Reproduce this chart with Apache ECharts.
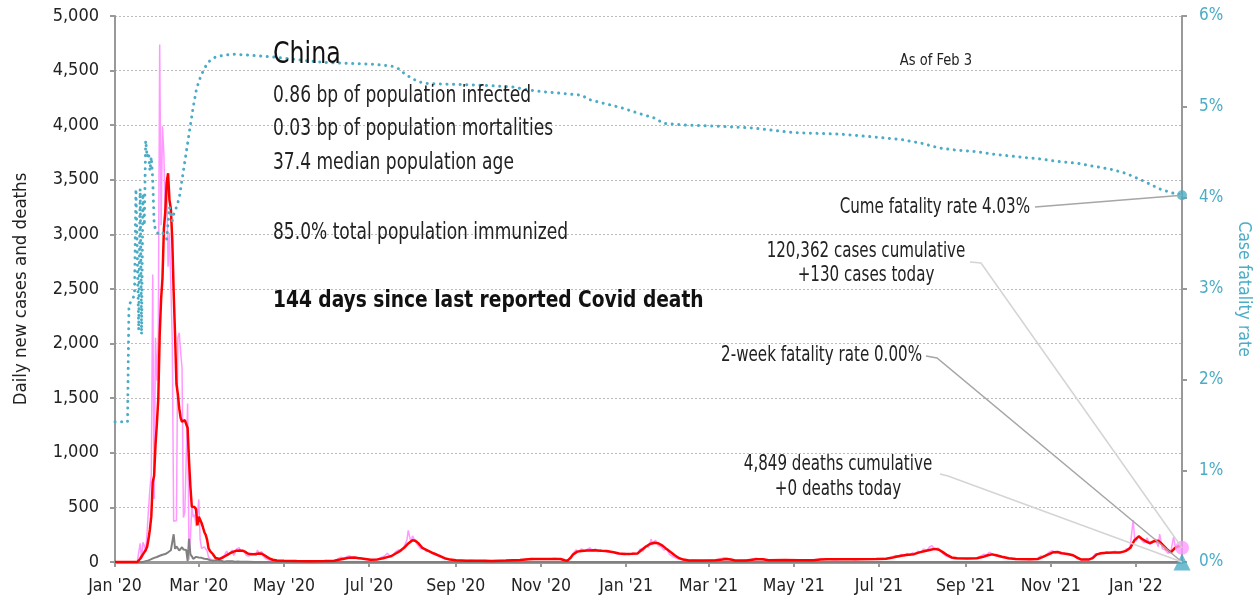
<!DOCTYPE html>
<html><head><meta charset="utf-8">
<script src="https://cdn.jsdelivr.net/npm/echarts@6/dist/echarts.min.js"></script>
<style>html,body{margin:0;padding:0;background:#fff}#c{width:1260px;height:604px}</style>
</head><body><div id="c"></div>
<script>
// x values are days since 2020-01-01
const START = Date.UTC(2020, 0, 1);
const LAST_DAY = 764; // 2022-02-03

const dailyCases = [[0,0],[6,2],[12,0],[16,4],[17,12],[18,170],[19,25],[20,180],[21,150],[22,95],[23,277],[24,486],[25,669],[26,802],[27,2632],[28,578],[29,2054],[30,1661],[31,2089],[32,4739],[33,3086],[34,3991],[35,3733],[36,3147],[37,3523],[38,2704],[39,3015],[40,2525],[41,2032],[42,373],[43,380],[44,380],[45,2055],[46,2100],[47,1921],[48,1777],[49,408],[50,458],[51,473],[52,1451],[53,21],[54,219],[55,513],[56,412],[57,434],[58,328],[59,428],[60,573],[61,202],[62,125],[63,119],[64,139],[65,143],[66,99],[67,44],[68,40],[69,19],[70,24],[71,15],[72,11],[73,20],[74,30],[75,25],[76,45],[77,40],[78,55],[79,45],[80,100],[81,65],[82,75],[83,90],[84,110],[85,60],[86,85],[87,120],[88,105],[89,130],[90,100],[91,95],[92,110],[93,90],[94,60],[95,70],[96,55],[97,80],[98,65],[99,75],[100,90],[101,60],[102,110],[103,85],[104,75],[105,95],[106,55],[107,40],[108,30],[109,25],[110,20],[112,15],[115,8],[120,10],[125,5],[130,12],[135,8],[140,5],[145,10],[150,6],[155,8],[158,15],[160,30],[162,45],[164,35],[166,50],[168,55],[170,40],[172,45],[174,30],[176,35],[178,25],[181,20],[184,15],[187,25],[189,30],[191,45],[193,55],[195,80],[197,50],[199,65],[201,95],[203,110],[205,100],[207,140],[209,200],[210,290],[211,230],[212,180],[213,240],[215,190],[217,150],[219,120],[221,130],[223,95],[225,100],[227,80],[229,70],[231,55],[234,40],[237,30],[240,20],[245,15],[250,12],[255,15],[260,10],[265,15],[270,8],[275,12],[280,15],[285,20],[290,18],[295,25],[298,35],[302,25],[306,30],[310,28],[315,35],[319,25],[322,10],[324,15],[326,45],[328,80],[330,110],[332,95],[334,120],[336,100],[338,115],[340,130],[342,100],[344,120],[346,95],[348,110],[350,100],[353,90],[356,95],[359,75],[362,70],[365,80],[368,65],[371,80],[374,75],[376,120],[378,100],[380,150],[382,135],[384,210],[385,160],[387,200],[389,150],[391,140],[393,110],[395,120],[397,70],[400,45],[403,30],[406,20],[410,12],[415,15],[420,10],[425,15],[430,18],[433,25],[436,40],[438,35],[440,20],[445,12],[450,15],[455,20],[459,35],[462,25],[466,15],[470,20],[475,12],[480,18],[485,15],[490,20],[495,12],[500,15],[505,25],[510,30],[515,20],[520,25],[525,30],[530,20],[535,28],[540,25],[545,30],[550,35],[553,30],[556,45],[559,60],[561,45],[563,70],[565,55],[567,80],[569,60],[571,85],[573,70],[575,100],[577,90],[579,120],[581,100],[583,135],[585,150],[587,110],[589,130],[591,100],[593,75],[595,55],[598,40],[601,30],[605,35],[610,30],[615,35],[618,40],[620,55],[622,70],[624,65],[626,90],[628,75],[630,60],[633,50],[636,40],[640,30],[645,25],[650,28],[655,22],[660,30],[663,55],[665,45],[667,70],[669,90],[671,105],[673,85],[675,95],[677,75],[679,85],[681,70],[683,75],[685,60],[687,55],[689,30],[692,20],[695,25],[698,20],[700,45],[702,75],[704,70],[706,85],[708,75],[710,95],[712,80],[714,90],[716,100],[718,80],[720,95],[722,90],[724,120],[726,110],[727,150],[729,385],[730,230],[731,190],[733,240],[735,200],[737,175],[739,220],[741,160],[743,180],[745,210],[747,140],[748,255],[750,120],[752,110],[754,80],[756,95],[758,230],[759,150],[761,140],[763,160],[764,130]];

const avgCases = [[0,0],[16,0],[17,10],[18,30],[19,50],[20,70],[21,90],[22,110],[23,140],[24,210],[25,300],[26,420],[27,730],[28,790],[29,1071],[30,1269],[31,1498],[32,2079],[33,2406],[34,2600],[35,3050],[36,3207],[37,3473],[38,3560],[39,3314],[40,3234],[41,2954],[42,2474],[43,2079],[44,1630],[45,1537],[46,1406],[47,1320],[48,1284],[49,1289],[50,1300],[51,1313],[52,1227],[53,930],[54,687],[55,506],[56,507],[57,503],[58,483],[59,336],[60,415],[61,413],[62,357],[63,316],[64,273],[65,247],[66,200],[67,124],[68,101],[69,86],[70,73],[71,55],[72,36],[73,25],[75,28],[77,40],[79,55],[81,70],[83,85],[85,95],[87,104],[89,106],[91,104],[93,95],[95,78],[97,72],[99,70],[101,74],[103,78],[105,76],[107,62],[109,45],[111,30],[113,21],[116,14],[121,11],[130,9],[140,8],[150,9],[157,12],[161,22],[164,30],[168,40],[171,42],[174,36],[178,30],[183,21],[188,24],[192,35],[195,45],[198,55],[201,78],[204,100],[207,130],[210,170],[213,200],[215,195],[217,175],[220,130],[224,105],[228,80],[232,58],[236,35],[240,22],[244,15],[252,12],[262,12],[270,10],[280,13],[290,18],[296,26],[300,28],[310,28],[319,28],[322,16],[324,12],[326,35],[328,68],[331,95],[334,100],[338,106],[343,108],[348,102],[352,100],[357,90],[361,78],[365,74],[370,75],[374,77],[377,110],[380,140],[383,165],[386,176],[389,172],[392,150],[395,118],[398,90],[401,60],[404,35],[407,22],[411,14],[420,13],[430,16],[435,22],[438,28],[441,22],[444,14],[452,14],[459,25],[464,25],[468,16],[480,18],[490,16],[500,15],[505,22],[510,25],[530,25],[545,28],[552,30],[556,38],[560,50],[564,60],[568,66],[572,72],[576,88],[580,100],[584,112],[587,120],[590,112],[593,88],[596,62],[599,42],[603,34],[610,33],[617,35],[621,45],[625,62],[628,70],[631,62],[635,48],[640,34],[645,27],[655,25],[661,28],[664,45],[668,68],[672,90],[675,92],[678,80],[682,74],[686,62],[689,40],[692,22],[697,22],[700,35],[703,70],[706,80],[710,85],[715,88],[720,88],[724,102],[727,130],[730,200],[733,235],[735,215],[738,190],[741,172],[744,190],[747,195],[750,160],[753,120],[756,88],[759,130],[762,148],[764,142]];

const dailyDeaths = [[0,0],[20,0],[22,8],[23,16],[24,15],[25,24],[26,26],[27,26],[28,38],[29,43],[30,46],[31,45],[32,57],[33,64],[34,66],[35,73],[36,73],[37,86],[38,89],[39,97],[40,108],[41,97],[42,254],[43,121],[44,143],[45,142],[46,105],[47,98],[48,136],[49,114],[50,118],[51,109],[52,10],[53,212],[54,71],[55,52],[56,29],[57,44],[58,47],[59,35],[60,42],[61,31],[62,38],[63,31],[64,30],[65,28],[66,27],[67,22],[68,17],[69,22],[70,11],[71,7],[72,13],[73,10],[74,14],[75,13],[76,11],[77,8],[78,3],[79,7],[80,6],[81,9],[82,7],[83,4],[84,6],[85,5],[86,3],[88,4],[90,2],[95,3],[100,1],[106,0],[764,0]];

// case fatality rate, percent
const fatalityRate = [[0,1.54],[9,1.54],[10,2.83],[11,2.85],[12,2.87],[13,2.9],[14,2.95],[15,4.1],[16,4.12],[17,2.55],[18,4.1],[19,2.5],[20,4.05],[21,3.7],[22,4.63],[23,4.45],[24,4.5],[25,4.3],[26,4.45],[27,4.2],[28,3.72],[29,3.65],[30,3.62],[32,3.6],[34,3.62],[36,3.58],[37,3.55],[38,3.72],[39,3.9],[40,3.82],[41,3.75],[42,3.82],[43,3.85],[44,3.9],[45,3.95],[46,4.0],[47,4.1],[48,4.2],[50,4.4],[52,4.6],[54,4.8],[56,5.0],[58,5.17],[60,5.28],[62,5.36],[65,5.45],[68,5.51],[72,5.55],[78,5.57],[85,5.58],[95,5.57],[113,5.55],[130,5.52],[150,5.49],[165,5.48],[185,5.47],[198,5.45],[203,5.42],[207,5.37],[212,5.32],[217,5.28],[222,5.26],[240,5.25],[262,5.24],[285,5.22],[295,5.19],[305,5.17],[320,5.15],[334,5.13],[340,5.08],[350,5.04],[363,4.99],[375,4.93],[386,4.88],[393,4.82],[410,4.80],[430,4.79],[456,4.77],[485,4.72],[521,4.70],[544,4.67],[564,4.64],[578,4.60],[590,4.55],[600,4.53],[616,4.51],[630,4.48],[648,4.45],[662,4.43],[676,4.40],[690,4.38],[700,4.35],[712,4.32],[724,4.27],[736,4.19],[748,4.10],[756,4.06],[764,4.03]];

const casesToday = 130;
const deathsToday = 0;
const cumeFatality = 4.03;
const twoWeekFatality = 0.00;
const casesCumulative = 120362;
const deathsCumulative = 4849;

const countryName = 'China';
const infoLines = ['0.86 bp of population infected', '0.03 bp of population mortalities', '37.4 median population age', '', '85.0% total population immunized'];
const boldLine = '144 days since last reported Covid death';
const asOfText = 'As of Feb 3';
const MONTHS = ['Jan','Feb','Mar','Apr','May','Jun','Jul','Aug','Sep','Oct','Nov','Dec'];

const tickDays = [];
for (let y = 2020; y <= 2022; y++) for (let m = 0; m < 12; m += 2) {
  const d = (Date.UTC(y, m, 1) - START) / 864e5;
  if (d <= LAST_DAY) tickDays.push(d);
}
function fmtDay(v) {
  const dt = new Date(START + v * 864e5);
  return MONTHS[dt.getUTCMonth()] + " '" + String(dt.getUTCFullYear()).slice(2);
}

const FONT = "'DejaVu Sans Condensed','Liberation Sans Narrow',sans-serif";
const BLUE = '#4bacc6';
const chart = echarts.init(document.getElementById('c'), null, {renderer: 'canvas'});

const option = {
  animation: false,
  backgroundColor: '#fff',
  textStyle: {fontFamily: FONT},
  grid: {left: 115, right: 78, top: 16, bottom: 42, outerBoundsMode: 'none'},
  xAxis: {
    type: 'value', min: 0, max: LAST_DAY,
    axisLine: {show: true, onZero: false, lineStyle: {color: '#999', width: 3}},
    axisTick: {show: true, customValues: tickDays, length: 5, lineStyle: {color: '#999', width: 2}},
    axisLabel: {customValues: tickDays, formatter: fmtDay, color: '#222', fontSize: 17.5, margin: 15, fontFamily: FONT},
    splitLine: {show: false}
  },
  yAxis: [{
    type: 'value', min: 0, max: 5000, interval: 500,
    name: 'Daily new cases and deaths', nameLocation: 'middle', nameGap: 84,
    nameTextStyle: {fontSize: 18.5, color: '#222', fontFamily: FONT},
    axisLine: {show: true, lineStyle: {color: '#999', width: 2}},
    axisTick: {show: true, length: 5, lineStyle: {color: '#999', width: 2}},
    axisLabel: {formatter: v => v.toLocaleString('en-US'), fontSize: 18, color: '#222', margin: 16, fontFamily: FONT},
    splitLine: {show: true, lineStyle: {color: '#bbb', type: [2, 2], width: 1}}
  }, {
    type: 'value', min: 0, max: 6, interval: 1, position: 'right',
    name: 'Case fatality rate', nameLocation: 'middle', nameGap: 49, nameRotate: -90,
    nameTextStyle: {fontSize: 17.5, color: BLUE, fontFamily: FONT},
    axisLine: {show: true, lineStyle: {color: '#999', width: 2}},
    axisTick: {show: true, length: 5, lineStyle: {color: '#999', width: 2}},
    axisLabel: {formatter: '{value}%', fontSize: 17, color: BLUE, margin: 17, fontFamily: FONT},
    splitLine: {show: false}
  }],
  series: [
    {type: 'line', data: dailyCases, showSymbol: false, z: 2, lineStyle: {color: '#ff99ff', width: 1.5}, itemStyle: {color: '#ff99ff'}},
    {type: 'line', data: dailyDeaths, showSymbol: false, z: 3, lineStyle: {color: '#808080', width: 2}, itemStyle: {color: '#808080'}},
    {type: 'line', data: avgCases, showSymbol: false, z: 4, lineStyle: {color: '#ff0000', width: 2.5}, itemStyle: {color: '#ff0000'}},
    {type: 'line', yAxisIndex: 1, data: fatalityRate, showSymbol: false, z: 5,
      lineStyle: {color: BLUE, width: 3, type: [0.1, 6.5], cap: 'round'}, itemStyle: {color: BLUE}},
    {type: 'scatter', data: [[LAST_DAY, casesToday]], symbol: 'circle', symbolSize: 14, clip: false, z: 6, itemStyle: {color: '#ff99ff'}},
    {type: 'scatter', data: [[LAST_DAY, deathsToday]], symbol: 'triangle', symbolSize: 17, clip: false, z: 7, itemStyle: {color: BLUE}},
    {type: 'scatter', yAxisIndex: 1, data: [[LAST_DAY, cumeFatality]], symbol: 'circle', symbolSize: 10, clip: false, z: 7, itemStyle: {color: BLUE}}
  ]
};
chart.setOption(option);

const pCases = chart.convertToPixel({xAxisIndex: 0, yAxisIndex: 0}, [LAST_DAY, casesToday]);
const pDeaths = chart.convertToPixel({xAxisIndex: 0, yAxisIndex: 0}, [LAST_DAY, deathsToday]);
const pCfr = chart.convertToPixel({xAxisIndex: 0, yAxisIndex: 1}, [LAST_DAY, cumeFatality]);

function txt(x, y, text, size, sx, opts) {
  return {type: 'text', x: x, y: y, scaleX: sx, z: 100, silent: true,
    style: Object.assign({text: text, font: 'normal ' + size + 'px ' + FONT, fill: '#222', align: 'left', verticalAlign: 'middle'}, opts || {})};
}
function leader(points, color) {
  return {type: 'polyline', z: 90, silent: true, shape: {points: points}, style: {stroke: color, lineWidth: 1.5, fill: null}};
}
const graphics = [
  txt(273, 55, countryName, 31, 0.85, {fill: '#111'}),
  txt(273, 301, boldLine, 23, 0.9, {font: 'bold 23px ' + FONT, fill: '#111'}),
  txt(936, 61, asOfText, 15, 0.97, {align: 'center'}),
  txt(1030, 208, 'Cume fatality rate ' + cumeFatality.toFixed(2) + '%', 21, 0.8, {align: 'right'}),
  txt(866, 252, casesCumulative.toLocaleString('en-US') + ' cases cumulative', 21, 0.8, {align: 'center'}),
  txt(866, 276, '+' + casesToday + ' cases today', 21, 0.8, {align: 'center'}),
  txt(922, 356, '2-week fatality rate ' + twoWeekFatality.toFixed(2) + '%', 21, 0.8, {align: 'right'}),
  txt(838, 465, deathsCumulative.toLocaleString('en-US') + ' deaths cumulative', 21, 0.8, {align: 'center'}),
  txt(838, 490, '+' + deathsToday + ' deaths today', 21, 0.8, {align: 'center'}),
  leader([[1035, 207], pCfr], '#a6a6a6'),
  leader([[970, 262], [981, 263], pCases], '#d4d4d4'),
  leader([[926, 356], [937, 358], pDeaths], '#a6a6a6'),
  leader([[940, 474], [948, 476], pDeaths], '#d4d4d4')
];
const lineYs = [96, 129, 163, 198, 233];
infoLines.forEach((t, i) => { if (t) graphics.push(txt(273, lineYs[i], t, 23, 0.825)); });
chart.setOption({graphic: graphics});
</script>
</body></html>
